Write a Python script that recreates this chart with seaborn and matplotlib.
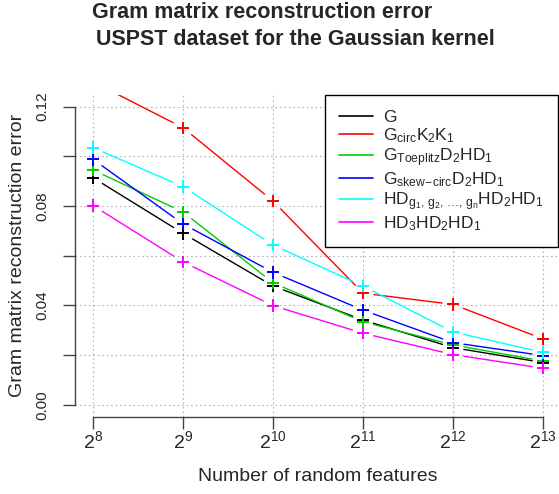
import numpy as np
import pandas as pd
import seaborn as sns
import matplotlib
matplotlib.use("Agg")
from matplotlib import pyplot as plt
from matplotlib.lines import Line2D

sns.set_style("white")
plt.rcParams['font.family'] = ['Liberation Sans', 'DejaVu Sans']
plt.rcParams['mathtext.fontset'] = 'custom'
plt.rcParams['mathtext.rm'] = 'Liberation Sans'
plt.rcParams['mathtext.it'] = 'Liberation Sans'
plt.rcParams['mathtext.bf'] = 'Liberation Sans:bold'

# data
features = [256, 512, 1024, 2048, 4096, 8192]
err_G = [0.0914, 0.0690, 0.0478, 0.0341, 0.0230, 0.0170]
err_circ = [0.1300, 0.1115, 0.0820, 0.0449, 0.0404, 0.0265]
err_toeplitz = [0.0945, 0.0776, 0.0491, 0.0334, 0.0241, 0.0176]
err_skew = [0.0988, 0.0728, 0.0533, 0.0381, 0.0250, 0.0198]
err_hdg = [0.1035, 0.0878, 0.0643, 0.0478, 0.0293, 0.0211]
err_hd3 = [0.0802, 0.0575, 0.0399, 0.0288, 0.0202, 0.0147]

labels = [r'$\mathrm{G}$',
          r'$\mathrm{G_{circ}K_2K_1}$',
          r'$\mathrm{G_{Toeplitz}D_2HD_1}$',
          r'$\mathrm{G_{skew\!-\!circ}D_2HD_1}$',
          r'$\mathrm{HD_{g_1,\,g_2,\,\ldots,\,g_n}HD_2HD_1}$',
          r'$\mathrm{HD_3HD_2HD_1}$']
colors = ['#000000', '#FF0000', '#00CD00', '#0000FF', '#00FFFF', '#FF00FF']
series = [err_G, err_circ, err_toeplitz, err_skew, err_hdg, err_hd3]

df = pd.DataFrame({
    'features': features * len(series),
    'error': sum(series, []),
    'method': [lab for lab in labels for _ in features],
})

fig = plt.figure(figsize=(5.59, 4.94), dpi=100)
ax = fig.add_axes([75 / 559, (494 - 416.7) / 494, 486 / 559, 322 / 494])

ax.set_xscale('log', base=2)
ax.set_xlim(2 ** 7.8, 2 ** 13.2)
ax.set_ylim(-0.0048, 0.1248)

# dotted grid like R's grid()
for v in features:
    ax.axvline(v, color='#b4b4b4', lw=0.8, ls=(0, (1.5, 2.5)), zorder=0)
for h in np.arange(0, 0.121, 0.02):
    ax.axhline(h, color='#b4b4b4', lw=0.8, ls=(0, (1.5, 2.5)), zorder=0)

# type="b": line segments with a gap around each point
gap = 11
inv = ax.transData.inverted()
for vals, col in zip(series, colors):
    pts = ax.transData.transform(np.column_stack([features, vals]))
    for p0, p1 in zip(pts[:-1], pts[1:]):
        d = p1 - p0
        L = np.hypot(*d)
        if L <= 2 * gap:
            continue
        u = d / L
        a, b = inv.transform(np.array([p0 + u * gap, p1 - u * gap]))
        ax.plot([a[0], b[0]], [a[1], b[1]], color=col, lw=1.0, zorder=2)

sns.scatterplot(data=df, x='features', y='error', hue='method', palette=colors,
                marker='+', s=80, linewidth=1.4, legend=False, ax=ax, zorder=3)

# axes like R
for s in ['top', 'right']:
    ax.spines[s].set_visible(False)
ax.spines['left'].set_bounds(0, 0.12)
ax.spines['bottom'].set_bounds(256, 8192)
for s in ['left', 'bottom']:
    ax.spines[s].set_color('#444444')
    ax.spines[s].set_linewidth(1.0)

ax.set_xticks(features)
ax.set_xticklabels([r'$\mathrm{2^{%d}}$' % n for n in range(8, 14)])
ax.xaxis.set_minor_locator(matplotlib.ticker.NullLocator())
yt = np.arange(0, 0.121, 0.02)
ax.set_yticks(yt)
ax.set_yticklabels(['%.2f' % v if i % 2 == 0 else '' for i, v in enumerate(yt)],
                   rotation=90, va='center')
ax.tick_params(axis='both', direction='out', length=8.6, width=1.0, color='#444444',
               bottom=True, left=True)
ax.tick_params(axis='x', labelsize=14, pad=1)
ax.tick_params(axis='y', labelsize=11, pad=10)

ax.set_xlabel('Number of random features', fontsize=14)
ax.set_ylabel('Gram matrix reconstruction error', fontsize=14)
ax.xaxis.set_label_coords(0.5, -0.16)
ax.yaxis.set_label_coords(-0.1, 0.5)

fig.text(261.7 / 559, 1 - 18.3 / 494, 'Gram matrix reconstruction error',
         ha='center', va='baseline', fontsize=15.5, fontweight='bold')
fig.text(295 / 559, 1 - 45 / 494, 'USPST dataset for the Gaussian kernel',
         ha='center', va='baseline', fontsize=15.5, fontweight='bold')

handles = [Line2D([], [], color=c, lw=1.2) for c in colors]
leg = ax.legend(handles, labels, loc='upper right', fontsize=12.5,
                bbox_to_anchor=(558 / 559, 1 - 95 / 494), bbox_transform=fig.transFigure,
                borderaxespad=0, fancybox=False, framealpha=1, edgecolor='black',
                handlelength=1.95, handletextpad=0.6, labelspacing=0.08, borderpad=0.8)
leg.get_frame().set_linewidth(1.0)

fig.savefig('out.png', dpi=100)
